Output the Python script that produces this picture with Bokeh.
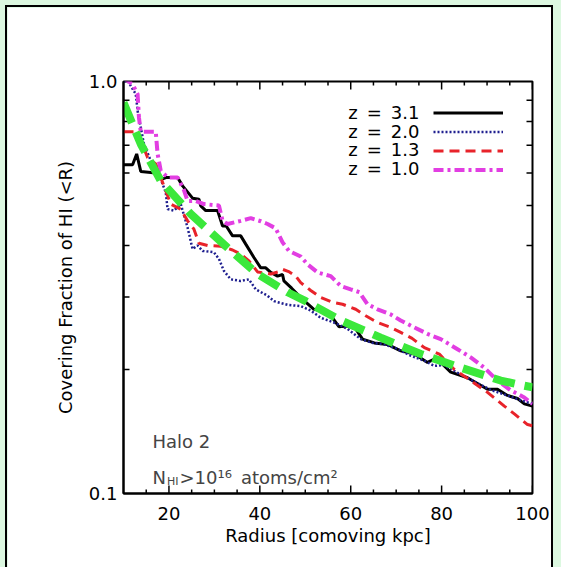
from bokeh.plotting import figure
from bokeh.models import (Range1d, FixedTicker, PrintfTickFormatter, Label, Legend, LegendItem)
from bokeh.layouts import column
from bokeh.embed import file_html
from bokeh.resources import INLINE

# ---------------- data ----------------
x_z31 = [10.0, 12.0, 12.9, 13.8, 17.1, 18.6, 19.5, 21.9, 23.0, 25.2, 26.6, 27.0, 28.1, 30.7, 31.8,
         32.6, 34.0, 35.8, 36.9, 38.7, 40.2, 41.3, 42.4, 43.9, 45.0, 45.3, 47.0, 49.0, 51.9, 53.4,
         56.0, 57.4, 59.3, 61.1, 62.6, 65.2, 68.1, 71.0, 74.0, 76.9, 78.4, 79.8, 82.0, 85.7, 87.5,
         90.1, 92.3, 94.5, 96.7, 98.2, 100.0]
y_z31 = [0.628, 0.628, 0.667, 0.605, 0.600, 0.580, 0.585, 0.585, 0.558, 0.521, 0.518, 0.499, 0.486, 0.486, 0.446,
         0.446, 0.422, 0.422, 0.403, 0.374, 0.353, 0.353, 0.344, 0.337, 0.340, 0.328, 0.315, 0.299, 0.280, 0.278,
         0.267, 0.254, 0.255, 0.251, 0.237, 0.232, 0.230, 0.222, 0.218, 0.208, 0.212, 0.208, 0.197, 0.191, 0.186,
         0.179, 0.179, 0.173, 0.170, 0.165, 0.163]

x_z20 = [10.0, 11.0, 12.7, 13.1, 13.8, 14.5, 16.0, 17.5, 19.3, 19.7, 21.1, 22.6, 24.1, 25.2, 26.3,
         27.4, 29.9, 31.0, 32.1, 33.6, 35.8, 37.6, 39.1, 41.7, 43.1, 46.1, 49.0, 51.2, 53.4, 56.3,
         59.3, 62.2, 64.8, 67.4, 70.0, 73.2, 76.2, 78.4, 80.5, 84.0, 88.0, 91.0, 94.5, 97.0, 100.0]
y_z20 = [1.0, 1.0, 0.932, 0.849, 0.773, 0.705, 0.642, 0.607, 0.538, 0.490, 0.486, 0.504, 0.442, 0.392, 0.400,
         0.388, 0.385, 0.371, 0.347, 0.331, 0.328, 0.331, 0.313, 0.302, 0.293, 0.287, 0.285, 0.278, 0.267, 0.260,
         0.251, 0.237, 0.232, 0.230, 0.225, 0.216, 0.210, 0.204, 0.205, 0.195, 0.185, 0.178, 0.173, 0.169, 0.165]

x_z13 = [10.0, 13.1, 13.8, 15.3, 17.1, 18.6, 20.4, 22.6, 24.1, 25.5, 26.6, 28.5, 31.4, 34.0, 35.8,
         37.6, 39.5, 42.4, 44.0, 45.0, 46.5, 47.9, 49.0, 51.2, 53.4, 56.0, 58.2, 61.1, 63.3, 65.9,
         68.8, 71.0, 73.5, 76.2, 79.5, 82.8, 86.4, 90.1, 93.8, 96.0, 98.9, 100.0]
y_z13 = [0.755, 0.755, 0.718, 0.654, 0.631, 0.569, 0.504, 0.490, 0.459, 0.438, 0.405, 0.400, 0.398, 0.390, 0.381,
         0.367, 0.345, 0.341, 0.345, 0.350, 0.345, 0.337, 0.325, 0.311, 0.299, 0.291, 0.288, 0.280, 0.270, 0.260,
         0.253, 0.246, 0.238, 0.226, 0.218, 0.200, 0.188, 0.176, 0.163, 0.156, 0.147, 0.146]

x_z10 = [10.0, 12.0, 13.1, 13.4, 13.8, 17.1, 17.5, 18.2, 19.7, 21.9, 23.3, 24.1, 25.9, 27.7, 31.0,
         31.8, 32.9, 35.8, 38.0, 40.2, 41.7, 43.5, 45.0, 46.4, 49.0, 50.5, 52.7, 55.6, 57.8, 60.0,
         61.9, 63.7, 65.9, 68.8, 71.0, 74.0, 76.9, 79.8, 83.5, 86.4, 89.4, 92.3, 95.2, 98.2, 100.0]
y_z10 = [1.02, 0.985, 0.932, 0.818, 0.755, 0.755, 0.667, 0.607, 0.585, 0.585, 0.545, 0.513, 0.513, 0.504, 0.500,
         0.459, 0.451, 0.459, 0.466, 0.458, 0.451, 0.440, 0.407, 0.388, 0.376, 0.360, 0.344, 0.337, 0.319, 0.313,
         0.308, 0.288, 0.280, 0.272, 0.263, 0.253, 0.244, 0.237, 0.224, 0.214, 0.202, 0.188, 0.178, 0.171, 0.165]

x_fit = [10.0, 13.8, 18.2, 24.8, 32.9, 39.5, 46.1, 50.1, 57.8, 66.6, 71.0, 75.4, 84.2, 93.0, 97.8, 100.0]
y_fit = [0.889, 0.705, 0.574, 0.477, 0.395, 0.341, 0.308, 0.293, 0.263, 0.239, 0.228, 0.218, 0.202, 0.188, 0.183, 0.181]

legend_labels = ["z\u2002=\u20023.1", "z\u2002=\u20022.0", "z\u2002=\u20021.3", "z\u2002=\u20021.0"]
x_major = [20, 40, 60, 80, 100]
x_minor = [15, 25, 30, 35, 45, 50, 55, 65, 70, 75, 85, 90, 95]
y_major = [0.1, 1.0]
y_minor = [0.2, 0.3, 0.4, 0.5, 0.6, 0.7, 0.8, 0.9]
X_LO, X_HI = 10, 100
Y_LO, Y_HI = 0.1, 1.0

FONT = "DejaVu Sans"
FRAME_W, FRAME_H = 409, 412
NAN = float("nan")

p = figure(width=544, height=560, x_range=Range1d(X_LO, X_HI), y_range=Range1d(Y_LO, Y_HI),
           y_axis_type="log", output_backend="svg", toolbar_location=None,
           min_border_left=116, min_border_right=19, min_border_top=74, min_border_bottom=74,
           background_fill_color="white", border_fill_color="white",
           outline_line_color="black", outline_line_width=2)
p.margin = (7, 10, 0, 7)
p.styles = {"outline": "2px solid black"}
p.xgrid.visible = False
p.ygrid.visible = False

def style_axis(ax):
    ax.axis_line_width = 2
    ax.major_tick_in = 0
    ax.major_tick_out = 0
    ax.minor_tick_in = 0
    ax.minor_tick_out = 0
    ax.major_label_text_font = FONT
    ax.major_label_text_font_size = "18px"
    ax.major_label_text_color = "black"
    ax.axis_label_text_font = FONT
    ax.axis_label_text_font_size = "18px"
    ax.axis_label_text_font_style = "normal"
    ax.axis_label_text_color = "black"

xa = p.xaxis[0]
xa.ticker = FixedTicker(ticks=x_major, minor_ticks=x_minor)
style_axis(xa)
xa.axis_label = "Radius [comoving kpc]"
xa.major_label_standoff = 13
xa.axis_label_standoff = 2

ya = p.yaxis[0]
ya.ticker = FixedTicker(ticks=y_major, minor_ticks=y_minor)
style_axis(ya)
ya.formatter = PrintfTickFormatter(format="%.1f")
ya.axis_label = "Covering Fraction of HI (<R)"
ya.major_label_standoff = 6
ya.axis_label_standoff = 10

# inward tick marks (IDL style) on all four sides, drawn as one broken line
# (NaN separators) so that short marks at the frame edges are never culled.
def ypx(px):  # multiplicative factor on the log axis for a length of px pixels
    return 10 ** (px / FRAME_H)

def xpx(px):  # additive length on the linear axis for px pixels
    return px * (X_HI - X_LO) / FRAME_W

tick_x, tick_y = [], []
for ticks, ln in ((x_major, 8), (x_minor, 4)):
    for t in ticks:
        tick_x += [t, t, NAN, t, t, NAN]
        tick_y += [Y_LO, Y_LO * ypx(ln), NAN, Y_HI, Y_HI / ypx(ln), NAN]
for t in y_minor:
    tick_x += [X_LO, X_LO + xpx(6), NAN, X_HI, X_HI - xpx(6), NAN]
    tick_y += [t, t, NAN, t, t, NAN]
p.line(tick_x, tick_y, line_color="black", line_width=1.5)

r1 = p.line(x_z31, y_z31, line_color="black", line_width=3)
r2 = p.line(x_z20, y_z20, line_color="#1f1f8f", line_width=2.5, line_dash="2 2")
r3 = p.line(x_z13, y_z13, line_color="#e8232a", line_width=3, line_dash="10 6")
r4 = p.line(x_z10, y_z10, line_color="#e23ee2", line_width=4, line_dash="10 4 3 4")
p.line(x_fit, y_fit, line_color="#3be83b", line_width=8, line_dash="22 10")

legend = Legend(items=[LegendItem(label=" ", renderers=[r]) for r in (r1, r2, r3, r4)],
                location=(310, 314), glyph_width=70, glyph_height=19, label_height=19,
                label_width=0, label_standoff=0, spacing=0, padding=0, margin=0,
                label_text_font_size="1px", background_fill_alpha=0, border_line_alpha=0)
p.add_layout(legend, "center")

for i, txt in enumerate(legend_labels):
    p.add_layout(Label(x=296, y=381 - 18.7 * i, x_units="screen", y_units="screen", text=txt,
                       text_align="right", text_baseline="middle", text_font=FONT,
                       text_font_size="18px", text_color="black"))

p.add_layout(Label(x=29, y=52, x_units="screen", y_units="screen", text="Halo 2",
                   text_font=FONT, text_font_size="18px", text_baseline="alphabetic"))
p.add_layout(Label(x=29, y=16.5, x_units="screen", y_units="screen", text="N",
                   text_font=FONT, text_font_size="18px", text_baseline="alphabetic"))
p.add_layout(Label(x=43.5, y=12, x_units="screen", y_units="screen", text="HI",
                   text_font=FONT, text_font_size="11px", text_baseline="alphabetic"))
p.add_layout(Label(x=56, y=16.5, x_units="screen", y_units="screen", text=">10\u00b9\u2076\u2002atoms/cm\u00b2",
                   text_font=FONT, text_font_size="18px", text_baseline="alphabetic"))

layout = column(p, width=561, height=567, styles={"background-color": "#dcf8e0"})

open("out.html", "w").write(file_html(layout, INLINE))
